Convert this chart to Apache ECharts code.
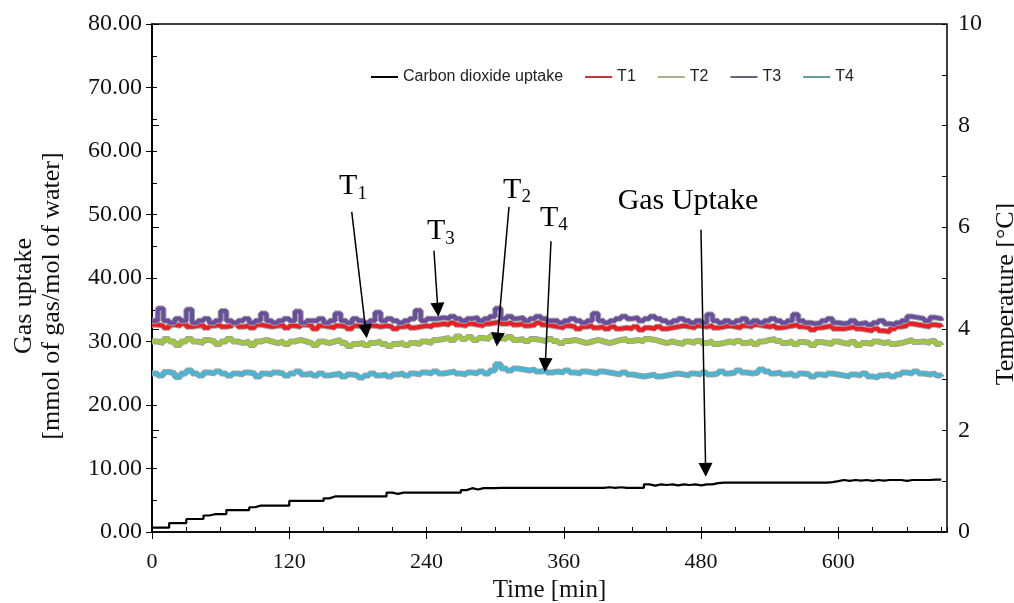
<!DOCTYPE html>
<html>
<head>
<meta charset="utf-8">
<script src="https://cdn.jsdelivr.net/npm/echarts@6/dist/echarts.min.js"></script>
<style>html,body{margin:0;padding:0;background:#fff}#main{width:1014px;height:603px}</style>
</head>
<body>
<div id="main"></div>
<script>
// time in minutes
var minutes = [
  0,5,10,15,20,25,30,35,40,45, 50,55,60,65,70,75,80,85,90,95,
  100,105,110,115,120,125,130,135,140,145, 150,155,160,165,170,175,180,185,190,195,
  200,205,210,215,220,225,230,235,240,245, 250,255,260,265,270,275,280,285,290,295,
  300,305,310,315,320,325,330,335,340,345, 350,355,360,365,370,375,380,385,390,395,
  400,405,410,415,420,425,430,435,440,445, 450,455,460,465,470,475,480,485,490,495,
  500,505,510,515,520,525,530,535,540,545, 550,555,560,565,570,575,580,585,590,595,
  600,605,610,615,620,625,630,635,640,645, 650,655,660,665,670,675,680,685,690
];

// mmol gas / mol water (left axis)
var gasUptake = [
  0.70,0.70,0.70,1.40,1.40,1.40,2.05,2.05,2.05,2.60,
  2.80,2.80,2.80,3.45,3.45,3.45,3.45,3.90,4.15,4.15,
  4.15,4.15,4.15,4.15,4.90,4.90,4.90,4.90,4.90,4.90,
  5.30,5.60,5.60,5.60,5.60,5.60,5.60,5.60,5.60,5.60,
  5.60,6.20,6.00,6.20,6.20,6.20,6.20,6.20,6.20,6.20,
  6.20,6.20,6.20,6.20,6.60,6.90,6.70,6.90,6.90,6.90,
  6.95,6.95,6.95,6.95,6.95,6.95,6.95,6.95,6.95,6.95,
  6.95,6.95,6.95,6.95,6.95,6.95,6.95,6.95,6.95,7.05,
  6.95,7.05,6.95,6.95,6.95,6.95,7.50,7.30,7.50,7.40,
  7.50,7.35,7.50,7.40,7.50,7.35,7.50,7.50,7.70,7.77,
  7.77,7.77,7.77,7.77,7.77,7.77,7.77,7.77,7.77,7.77,
  7.77,7.77,7.77,7.77,7.77,7.77,7.77,7.77,7.85,8.00,
  8.19,8.05,8.19,8.10,8.19,8.05,8.19,8.10,8.19,8.19,
  8.19,8.05,8.19,8.19,8.19,8.19,8.25,8.25,8.25
];

// temperatures in °C (right axis)
var t1 = [
  4.08,4.06,4.02,4.08,4.06,4.10,4.04,4.06,4.08,4.02,
  4.06,4.08,4.04,4.06,4.10,4.04,4.06,4.02,4.08,4.06,
  4.04,4.06,4.08,4.02,4.06,4.04,4.08,4.06,4.00,4.06,
  4.04,4.02,4.06,4.04,4.00,4.06,4.04,4.02,4.06,4.04,
  4.06,4.04,4.00,4.04,4.06,4.02,4.04,4.06,4.04,4.08,
  4.10,4.08,4.12,4.08,4.06,4.10,4.08,4.06,4.10,4.12,
  4.14,4.10,4.12,4.08,4.10,4.06,4.08,4.12,4.08,4.06,
  4.04,4.02,4.06,4.04,4.00,4.04,4.06,4.02,4.04,4.00,
  4.04,4.00,4.02,4.00,4.04,3.98,4.02,4.00,4.04,4.00,
  4.02,4.04,4.06,4.04,4.02,4.06,4.04,4.06,4.02,4.04,
  4.06,4.04,4.02,4.06,4.04,4.08,4.06,4.04,4.06,4.02,
  4.04,4.06,4.08,4.04,4.02,3.98,4.02,4.04,4.06,4.00,
  4.00,4.02,4.04,4.00,3.98,3.96,4.00,3.96,3.94,4.00,
  4.04,4.06,4.10,4.08,4.06,4.04,4.08,4.06,4.04
];
var t2 = [
  3.75,3.72,3.80,3.75,3.68,3.75,3.80,3.75,3.72,3.78,
  3.75,3.70,3.75,3.80,3.75,3.72,3.75,3.68,3.75,3.78,
  3.75,3.72,3.75,3.70,3.75,3.78,3.75,3.72,3.68,3.75,
  3.72,3.75,3.78,3.72,3.66,3.70,3.72,3.68,3.72,3.75,
  3.70,3.66,3.70,3.72,3.68,3.72,3.70,3.75,3.72,3.78,
  3.80,3.82,3.78,3.85,3.80,3.84,3.78,3.82,3.80,3.86,
  3.82,3.80,3.84,3.78,3.80,3.76,3.80,3.78,3.75,3.80,
  3.76,3.72,3.76,3.78,3.75,3.72,3.75,3.78,3.75,3.72,
  3.75,3.78,3.80,3.76,3.78,3.75,3.80,3.78,3.75,3.72,
  3.75,3.72,3.70,3.75,3.72,3.76,3.72,3.75,3.70,3.72,
  3.75,3.72,3.76,3.72,3.75,3.70,3.75,3.78,3.80,3.76,
  3.72,3.75,3.70,3.74,3.72,3.68,3.74,3.72,3.70,3.75,
  3.72,3.70,3.74,3.68,3.72,3.70,3.75,3.72,3.74,3.70,
  3.72,3.75,3.78,3.74,3.75,3.72,3.76,3.70,3.68
];
var t3 = [
  4.16,4.40,4.16,4.12,4.20,4.16,4.38,4.12,4.16,4.20,
  4.12,4.16,4.35,4.16,4.12,4.16,4.20,4.12,4.16,4.30,
  4.16,4.12,4.16,4.20,4.16,4.34,4.12,4.16,4.16,4.20,
  4.12,4.16,4.30,4.16,4.12,4.20,4.16,4.12,4.16,4.32,
  4.16,4.20,4.16,4.12,4.16,4.20,4.36,4.16,4.20,4.20,
  4.22,4.20,4.24,4.20,4.16,4.20,4.22,4.16,4.20,4.24,
  4.40,4.20,4.24,4.20,4.22,4.16,4.20,4.24,4.20,4.16,
  4.16,4.12,4.16,4.20,4.16,4.12,4.16,4.30,4.16,4.12,
  4.16,4.20,4.24,4.20,4.22,4.16,4.20,4.24,4.20,4.16,
  4.12,4.16,4.20,4.16,4.12,4.16,4.12,4.28,4.16,4.12,
  4.16,4.12,4.16,4.20,4.12,4.16,4.12,4.16,4.20,4.16,
  4.12,4.16,4.28,4.16,4.12,4.10,4.12,4.16,4.20,4.12,
  4.10,4.12,4.16,4.10,4.12,4.08,4.12,4.16,4.10,4.08,
  4.12,4.16,4.24,4.22,4.20,4.16,4.22,4.20,4.16
];
var t4 = [
  3.12,3.08,3.15,3.12,3.05,3.12,3.18,3.12,3.08,3.14,
  3.12,3.16,3.12,3.08,3.12,3.10,3.14,3.12,3.06,3.12,
  3.10,3.14,3.12,3.08,3.12,3.16,3.10,3.12,3.08,3.12,
  3.08,3.10,3.12,3.06,3.10,3.08,3.04,3.08,3.12,3.08,
  3.10,3.06,3.10,3.12,3.08,3.12,3.10,3.14,3.12,3.16,
  3.12,3.14,3.16,3.12,3.10,3.14,3.12,3.16,3.12,3.18,
  3.30,3.22,3.18,3.22,3.20,3.18,3.20,3.16,3.18,3.14,
  3.16,3.14,3.18,3.14,3.12,3.16,3.14,3.12,3.16,3.14,
  3.12,3.10,3.14,3.10,3.08,3.06,3.08,3.10,3.06,3.08,
  3.10,3.12,3.10,3.08,3.12,3.10,3.14,3.10,3.12,3.16,
  3.12,3.14,3.18,3.14,3.12,3.14,3.20,3.16,3.12,3.14,
  3.10,3.12,3.08,3.12,3.10,3.06,3.10,3.08,3.12,3.10,
  3.08,3.06,3.10,3.08,3.12,3.06,3.04,3.08,3.10,3.06,
  3.10,3.14,3.12,3.16,3.12,3.10,3.12,3.08,3.06
];

var serif = 'Liberation Serif';
var chart = echarts.init(document.getElementById('main'));

function pairs(vals) {
  return minutes.map(function (m, i) { return [m, vals[i]]; });
}

// Excel-like line: grey outline underneath, coloured line on top
function tempSeries(name, vals, color) {
  return [{
    type: 'line', yAxisIndex: 1, step: 'end', symbol: 'none', silent: true,
    lineStyle: { color: '#a0a0a0', width: 6 }, data: pairs(vals)
  }, {
    name: name, type: 'line', yAxisIndex: 1, step: 'end', symbol: 'none',
    lineStyle: { color: color, width: 4 }, itemStyle: { color: color },
    data: pairs(vals)
  }];
}

function sub(main, s) {
  return {
    formatter: '{a|' + main + '}{b|' + s + '}',
    rich: {
      a: { fontFamily: serif, fontSize: 30, color: '#000', padding: [0, 0, 2, 0], verticalAlign: 'bottom' },
      b: { fontFamily: serif, fontSize: 19, color: '#000', verticalAlign: 'bottom' }
    }
  };
}

var hide = { show: false };

var option = {
  animation: false,
  grid: {
    left: 152, right: 67, top: 24, bottom: 71, outerBoundsMode: 'none',
    show: true, borderColor: '#000', borderWidth: 1.5
  },
  legend: {
    left: 366, top: 64, itemWidth: 27, itemHeight: 2, itemGap: 22,
    textStyle: { fontFamily: 'Liberation Sans', fontSize: 16, color: '#222' },
    data: [
      { name: 'Carbon dioxide uptake', icon: 'rect', itemStyle: { color: '#000' } },
      { name: 'T1', icon: 'rect', itemStyle: { color: '#c8323c' } },
      { name: 'T2', icon: 'rect', itemStyle: { color: '#a9b386' } },
      { name: 'T3', icon: 'rect', itemStyle: { color: '#66657f' } },
      { name: 'T4', icon: 'rect', itemStyle: { color: '#5e9ea4' } }
    ]
  },
  xAxis: [{
    type: 'value', min: 0, max: 695, interval: 120, position: 'bottom',
    name: 'Time [min]', nameLocation: 'middle', nameGap: 46,
    nameTextStyle: { fontFamily: serif, fontSize: 25, color: '#111' },
    axisLine: { lineStyle: { color: '#000', width: 1.5 } },
    axisTick: { length: 7, lineStyle: { color: '#000' } },
    axisLabel: { showMaxLabel: false, margin: 19, fontFamily: serif, fontSize: 22, color: '#111' },
    splitLine: hide
  }, {
    type: 'value', min: 0, max: 695, interval: 30, position: 'bottom',
    axisLine: hide, axisLabel: hide, splitLine: hide,
    axisTick: { inside: true, length: 5, lineStyle: { color: '#000' } }
  }],
  yAxis: [{
    type: 'value', min: 0, max: 80, interval: 10, position: 'left',
    name: 'Gas uptake\n[mmol of gas/mol of water]', nameLocation: 'middle', nameGap: 86, nameRotate: 90,
    nameTextStyle: { fontFamily: serif, fontSize: 26, lineHeight: 28, color: '#111', padding: [0, 36, 0, 0] },
    axisLine: { show: true, lineStyle: { color: '#000', width: 1.5 } },
    axisTick: { show: true, length: 6, lineStyle: { color: '#000' } },
    axisLabel: { margin: 10, fontFamily: serif, fontSize: 24, color: '#111',
      formatter: function (v) { return v.toFixed(2); } },
    splitLine: hide
  }, {
    type: 'value', min: 0, max: 10, interval: 2, position: 'right',
    name: 'Temperature [°C]', nameLocation: 'middle', nameGap: 42, nameRotate: 90,
    nameTextStyle: { fontFamily: serif, fontSize: 26, color: '#111', padding: [0, 32, 0, 0] },
    axisLine: { show: true, lineStyle: { color: '#000', width: 1.5 } },
    axisTick: { show: true, length: 7, lineStyle: { color: '#000' } },
    axisLabel: { margin: 11, fontFamily: serif, fontSize: 24, color: '#111' },
    splitLine: hide
  }, {
    type: 'value', min: 0, max: 80, interval: 5, position: 'left',
    axisLine: hide, axisLabel: hide, splitLine: hide,
    axisTick: { show: true, inside: true, length: 5, lineStyle: { color: '#000' } }
  }, {
    type: 'value', min: 0, max: 10, interval: 1, position: 'right',
    axisLine: hide, axisLabel: hide, splitLine: hide,
    axisTick: { show: true, inside: true, length: 5, lineStyle: { color: '#000' } }
  }],
  series: [].concat(
    tempSeries('T1', t1, '#f01c24'),
    tempSeries('T2', t2, '#9fc541'),
    tempSeries('T3', t3, '#6a4d9c'),
    tempSeries('T4', t4, '#4ab5d2'),
    [{
      name: 'Carbon dioxide uptake', type: 'line', step: 'end', symbol: 'none',
      lineStyle: { color: '#000', width: 2.2 }, itemStyle: { color: '#000' },
      data: pairs(gasUptake), z: 5,
      markLine: {
        silent: true, symbol: ['none', 'triangle'], symbolSize: 14,
        label: { show: false },
        lineStyle: { color: '#000', width: 1.5, type: 'solid' },
        data: [
          [{ coord: [174.6, 50.4] }, { coord: [187.0, 31.6] }],
          [{ coord: [246.5, 44.3] }, { coord: [249.9, 35.0] }],
          [{ coord: [312.1, 51.2] }, { coord: [301.9, 30.3] }],
          [{ coord: [348.8, 45.8] }, { coord: [343.8, 26.3] }],
          [{ coord: [479.9, 47.6] }, { coord: [484.0, 9.8] }]
        ]
      },
      markPoint: {
        silent: true, symbol: 'circle', symbolSize: 1,
        itemStyle: { color: 'rgba(0,0,0,0)' },
        label: { show: true, position: 'inside' },
        data: [
          { coord: [175.7, 54.3], label: sub('T', '1') },
          { coord: [252.6, 47.2], label: sub('T', '3') },
          { coord: [319.1, 53.7], label: sub('T', '2') },
          { coord: [351.4, 49.3], label: sub('T', '4') },
          { coord: [468.6, 52.1], label: { formatter: 'Gas Uptake', fontFamily: serif, fontSize: 30, color: '#000' } }
        ]
      }
    }]
  )
};
chart.setOption(option);
</script>
</body>
</html>
